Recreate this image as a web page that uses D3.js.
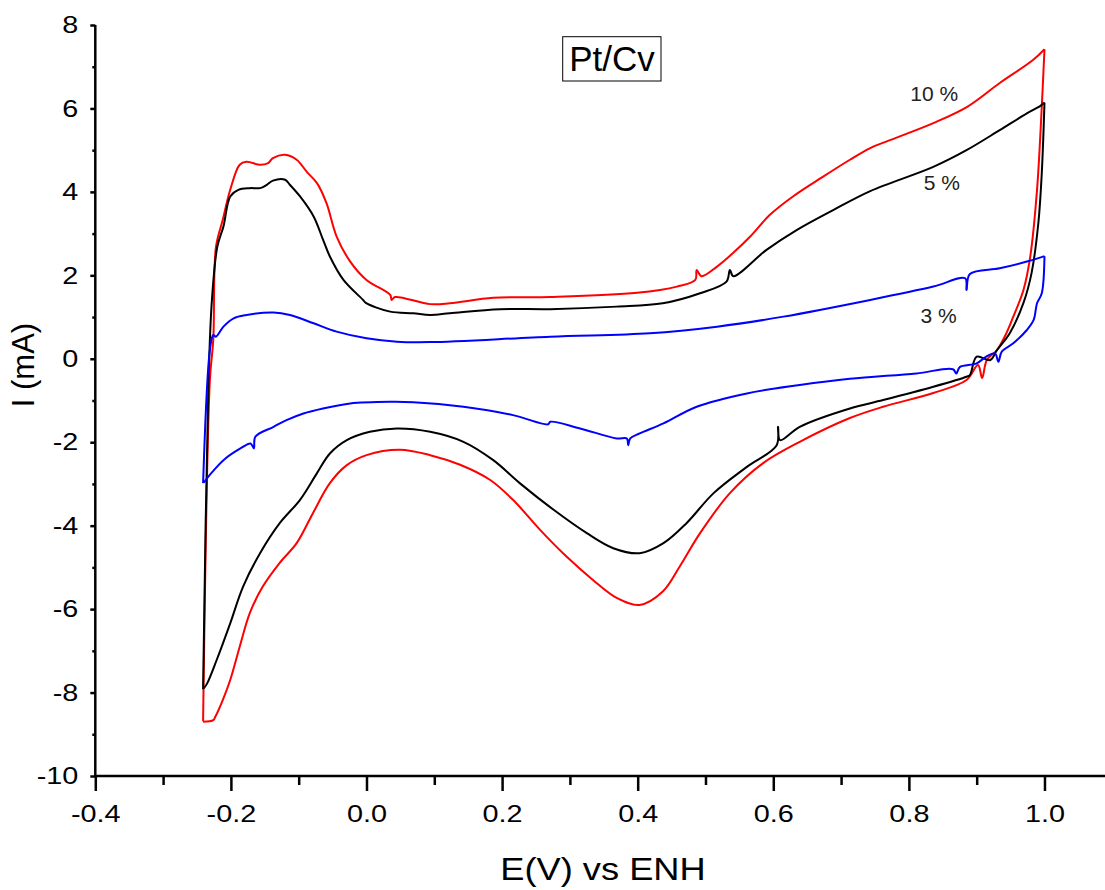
<!DOCTYPE html>
<html>
<head>
<meta charset="utf-8">
<script src="https://cdn.jsdelivr.net/npm/d3@7"></script>
<style>
  html, body { margin: 0; padding: 0; background: #fff; }
  svg { display: block; font-family: "Liberation Sans", Arial, sans-serif; }
</style>
</head>
<body>
<svg id="chart" width="1105" height="890"></svg>
<script>
// ---- Data: [E (V), I (mA)] in scan order ----
const curve10 = [
  [-0.241,-8.69],[-0.231,-0.51],[-0.226,0.45],[-0.222,2.68],[-0.212,3.33],[-0.201,4.05],[-0.187,4.65],[-0.177,4.72],
  [-0.157,4.65],[-0.145,4.69],[-0.138,4.81],[-0.120,4.89],[-0.103,4.77],[-0.088,4.48],[-0.073,4.21],[-0.059,3.73],
  [-0.044,2.93],[-0.024,2.33],[0.000,1.89],[0.035,1.53],[0.037,1.41],[0.042,1.48],[0.094,1.31],[0.123,1.33],
  [0.187,1.46],[0.271,1.48],[0.399,1.58],[0.458,1.73],[0.485,1.89],[0.487,2.13],[0.494,1.98],[0.517,2.21],
  [0.541,2.54],[0.566,2.93],[0.595,3.45],[0.629,3.89],[0.673,4.36],[0.713,4.77],[0.743,5.05],[0.772,5.24],
  [0.836,5.65],[0.886,6.04],[0.934,6.61],[0.983,7.16],[1.000,7.42],
  [0.996,6.04],[0.989,4.05],[0.979,2.45],[0.969,1.65],[0.954,1.01],[0.944,0.62],[0.930,0.21],[0.915,-0.03],
  [0.908,-0.46],[0.902,-0.15],[0.885,-0.51],[0.836,-0.82],[0.762,-1.15],[0.713,-1.42],[0.639,-1.99],[0.585,-2.50],
  [0.536,-3.22],[0.492,-4.18],[0.462,-4.98],[0.437,-5.58],[0.403,-5.90],[0.369,-5.73],[0.334,-5.30],[0.295,-4.74],
  [0.256,-4.10],[0.216,-3.38],[0.182,-2.90],[0.138,-2.54],[0.094,-2.31],[0.049,-2.18],[0.000,-2.31],[-0.029,-2.55],
  [-0.054,-2.98],[-0.079,-3.70],[-0.103,-4.42],[-0.128,-4.89],[-0.153,-5.46],[-0.172,-6.09],[-0.187,-6.90],
  [-0.201,-7.70],[-0.212,-8.18],[-0.223,-8.58],[-0.226,-8.66],[-0.241,-8.70]
];
const curve5 = [
  [-0.241,-7.92],[-0.233,-0.51],[-0.228,1.41],[-0.220,2.69],[-0.211,3.17],[-0.201,3.89],[-0.189,4.05],[-0.172,4.09],
  [-0.157,4.09],[-0.147,4.17],[-0.138,4.27],[-0.120,4.29],[-0.113,4.17],[-0.098,3.89],[-0.078,3.41],[-0.064,2.85],
  [-0.054,2.45],[-0.034,1.89],[-0.005,1.41],[-0.001,1.34],[0.035,1.13],[0.069,1.09],[0.094,1.05],[0.123,1.09],
  [0.197,1.19],[0.271,1.19],[0.369,1.25],[0.437,1.33],[0.492,1.57],[0.531,1.85],[0.536,2.13],[0.541,1.98],
  [0.590,2.61],[0.635,3.09],[0.689,3.57],[0.743,4.02],[0.836,4.60],[0.885,5.00],[0.934,5.48],
  [0.974,5.88],[0.994,6.06],[1.000,6.14],
  [0.996,4.45],[0.991,3.26],[0.981,2.06],[0.969,1.34],[0.949,0.62],[0.930,0.21],[0.920,-0.03],[0.900,0.05],
  [0.890,-0.39],[0.885,-0.43],[0.836,-0.67],[0.762,-0.99],[0.713,-1.19],[0.639,-1.63],[0.610,-1.95],[0.607,-1.63],
  [0.605,-2.07],[0.561,-2.59],[0.512,-3.22],[0.472,-3.94],[0.438,-4.42],[0.403,-4.66],[0.364,-4.54],[0.325,-4.18],
  [0.276,-3.62],[0.226,-2.98],[0.187,-2.43],[0.143,-1.99],[0.094,-1.75],[0.045,-1.67],[0.005,-1.75],[-0.029,-1.95],
  [-0.054,-2.27],[-0.073,-2.74],[-0.098,-3.38],[-0.128,-3.94],[-0.157,-4.66],[-0.182,-5.46],[-0.201,-6.34],
  [-0.221,-7.22],[-0.235,-7.78],[-0.240,-7.90]
];
const curve3 = [
  [-0.241,-2.98],[-0.231,0.21],[-0.226,0.57],[-0.222,0.53],[-0.211,0.77],[-0.196,0.97],[-0.177,1.05],[-0.137,1.11],
  [-0.113,1.05],[-0.078,0.85],[-0.044,0.65],[0.000,0.49],[0.045,0.41],[0.094,0.40],[0.271,0.53],[0.418,0.61],
  [0.517,0.77],[0.615,1.01],[0.743,1.41],[0.836,1.73],[0.883,1.93],[0.885,1.65],[0.890,2.03],[0.934,2.17],
  [0.974,2.33],[1.000,2.46],
  [0.996,1.57],[0.989,1.33],[0.984,0.93],[0.974,0.69],[0.954,0.37],[0.937,0.17],[0.932,-0.07],[0.927,0.13],
  [0.914,0.05],[0.900,-0.11],[0.875,-0.20],[0.870,-0.35],[0.865,-0.25],[0.811,-0.35],[0.713,-0.48],[0.639,-0.63],
  [0.561,-0.83],[0.487,-1.15],[0.438,-1.55],[0.403,-1.79],[0.389,-1.91],[0.386,-2.07],[0.384,-1.91],[0.369,-1.91],
  [0.315,-1.67],[0.271,-1.51],[0.268,-1.57],[0.216,-1.35],[0.143,-1.15],[0.069,-1.04],[0.035,-1.03],[-0.024,-1.07],
  [-0.064,-1.19],[-0.093,-1.31],[-0.118,-1.47],[-0.137,-1.63],[-0.164,-1.87],[-0.166,-2.15],[-0.171,-2.03],
  [-0.186,-2.15],[-0.211,-2.43],[-0.225,-2.67],[-0.235,-2.86],[-0.240,-2.97]
];
const seriesNames = ["10 %", "5 %", "3 %"];
const seriesColors = ["#ff0000", "#000000", "#0000ff"];
const labelPos = [[0.802, 6.18], [0.822, 4.05], [0.817, 0.85]];
const xMajorTicks = [-0.4, -0.2, 0.0, 0.2, 0.4, 0.6, 0.8, 1.0];
const xMinorTicks = [-0.3, -0.1, 0.1, 0.3, 0.5, 0.7, 0.9];
const yMajorTicks = [-10, -8, -6, -4, -2, 0, 2, 4, 6, 8];
const yMinorTicks = [-9, -7, -5, -3, -1, 1, 3, 5, 7];
const titleText = "Pt/Cv";
const xTitle = "E(V) vs ENH";
const yTitle = "I (mA)";

// ---- Layout ----
const svg = d3.select("#chart");
const x = d3.scaleLinear().domain([-0.4, 1.09]).range([95.3, 1105.5]);
const y = d3.scaleLinear().domain([-10, 8]).range([776, 25]);
const fmtX = d => d3.format(".1f")(d).replace("\u2212", "-");
const fmtY = d => String(d);
const SX = 1.2; // horizontal stretch of tick / axis text

// curves: split each scan at the vertex potential so corners stay sharp
const line = d3.line().x(d => x(d[0])).y(d => y(d[1])).curve(d3.curveCatmullRom.alpha(0.5));
const data = [curve10, curve5, curve3];
const segs = [];
data.forEach((c, i) => {
  const k = d3.maxIndex(c, d => d[0]);
  segs.push({ pts: c.slice(0, k + 1), color: seriesColors[i] });
  segs.push({ pts: c.slice(k), color: seriesColors[i] });
});
svg.append("g").selectAll("path").data(segs).join("path")
  .attr("d", d => line(d.pts))
  .attr("fill", "none")
  .attr("stroke", d => d.color)
  .attr("stroke-width", 2)
  .attr("stroke-linejoin", "round");

// axes
const gx = svg.append("g").attr("transform", `translate(0,${y(-10)})`)
  .call(d3.axisBottom(x).tickValues(xMajorTicks).tickFormat(fmtX).tickSize(15).tickPadding(14));
const gxm = svg.append("g").attr("transform", `translate(0,${y(-10)})`)
  .call(d3.axisBottom(x).tickValues(xMinorTicks).tickFormat("").tickSize(9));
const gy = svg.append("g").attr("transform", `translate(${x(-0.4)},0)`)
  .call(d3.axisLeft(y).tickValues(yMajorTicks).tickFormat(fmtY).tickSize(5).tickPadding(12));
const gym = svg.append("g").attr("transform", `translate(${x(-0.4)},0)`)
  .call(d3.axisLeft(y).tickValues(yMinorTicks).tickFormat("").tickSize(3));
[gx, gxm, gy, gym].forEach(g => {
  g.select(".domain").attr("stroke", "#000").attr("stroke-width", 2.5);
  g.selectAll(".tick line").attr("stroke", "#000").attr("stroke-width", 2.5);
  g.selectAll("text").attr("fill", "#000").attr("font-size", 24)
    .attr("font-family", "'Liberation Sans', Arial, sans-serif");
});
gx.selectAll(".tick text").attr("transform", `scale(${SX},1)`);
gy.selectAll(".tick text").attr("x", -17 / SX).attr("transform", `scale(${SX},1)`);
gx.select(".domain").attr("d", `M${x(-0.4)},0H1105`);
gxm.select(".domain").remove();
gym.select(".domain").remove();
gy.select(".domain").attr("d", `M0,${y(8)}V${y(-10)}`);

// axis titles
svg.append("text").attr("transform", `translate(603,880) scale(1.17,1)`).attr("text-anchor", "middle")
  .attr("font-size", 31).text(xTitle);
svg.append("text").attr("transform", `translate(34,365) rotate(-90)`).attr("text-anchor", "middle")
  .attr("font-size", 31).text(yTitle);

// title box
const tb = svg.append("g");
tb.append("rect").attr("x", 562.7).attr("y", 36.7).attr("width", 98.3).attr("height", 44.3)
  .attr("fill", "#fff").attr("stroke", "#000").attr("stroke-width", 1);
tb.append("text").attr("x", 612).attr("y", 71).attr("text-anchor", "middle")
  .attr("font-size", 35).text(titleText);

// series labels
svg.append("g").selectAll("text").data(seriesNames).join("text")
  .attr("x", (d, i) => x(labelPos[i][0]))
  .attr("y", (d, i) => y(labelPos[i][1]))
  .attr("font-size", 21)
  .attr("fill", "#222")
  .text(d => d);
</script>
</body>
</html>
